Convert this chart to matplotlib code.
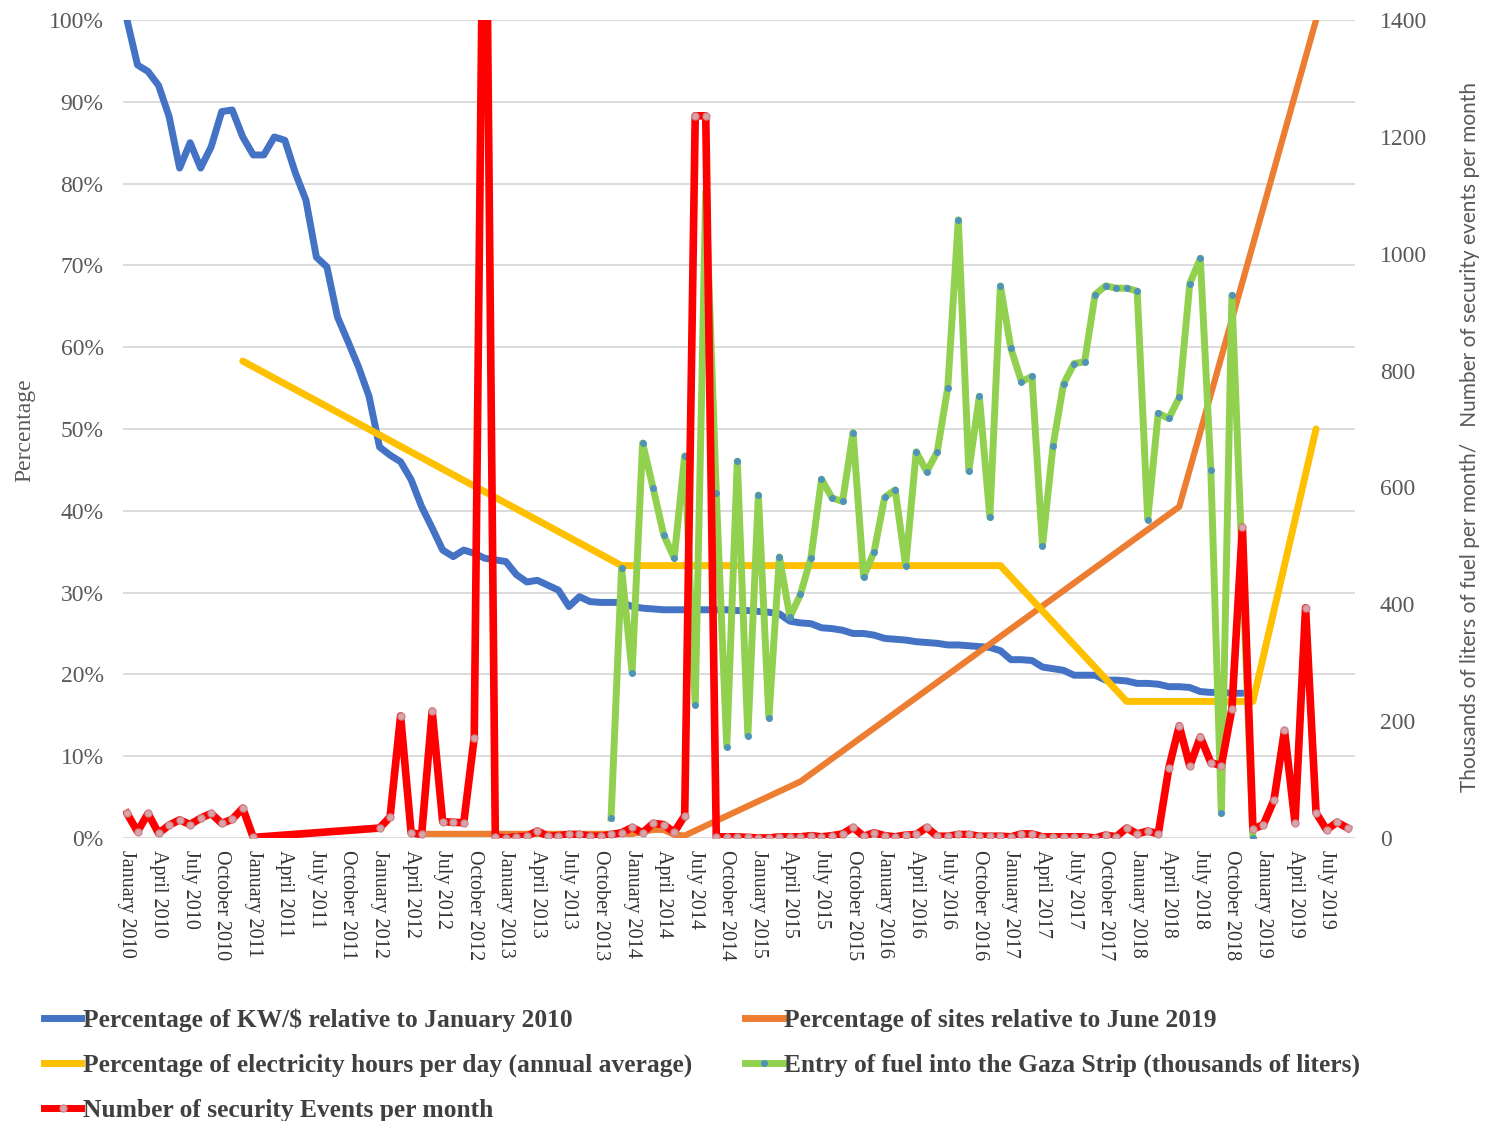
import numpy as np
import matplotlib.pyplot as plt
from matplotlib.lines import Line2D

# months counted from January 2010 (0) to September 2019 (116)
n_months = 117
month_names = ["January", "April", "July", "October"]
tick_pos = list(range(0, n_months, 3))
tick_labels = [month_names[(p // 3) % 4] + " " + str(2010 + p // 12) for p in tick_pos]

# Percentage of KW/$ relative to January 2010 (months 0..106)
kw_pct = [100, 94.5, 93.7, 92.0, 88.2, 81.9, 85.0, 81.9, 84.5, 88.8, 89.0, 85.7,
          83.5, 83.5, 85.7, 85.3, 81.3, 78.0, 71.0, 69.8, 63.7, 60.7, 57.6, 54.0,
          47.8, 46.8, 46.0, 43.8, 40.5, 37.9, 35.2, 34.4, 35.2, 34.8, 34.2, 34.0,
          33.8, 32.2, 31.3, 31.5, 30.9, 30.3, 28.3, 29.5, 28.9, 28.8, 28.8, 28.8,
          28.3, 28.1, 28.0, 27.9, 27.9, 27.9, 27.9, 27.9, 27.9, 27.9, 27.8, 27.8,
          27.7, 27.6, 27.4, 26.5, 26.3, 26.2, 25.7, 25.6, 25.4, 25.0, 25.0, 24.8,
          24.4, 24.3, 24.2, 24.0, 23.9, 23.8, 23.6, 23.6, 23.5, 23.4, 23.3, 22.9,
          21.8, 21.8, 21.7, 20.9, 20.7, 20.5, 19.9, 19.9, 19.9, 19.3, 19.3, 19.2,
          18.9, 18.9, 18.8, 18.5, 18.5, 18.4, 17.9, 17.8, 17.8, 17.7, 17.7]

# Percentage of sites relative to June 2019
sites_month = [28, 48, 50, 51, 52, 53, 64, 100, 113]
sites_pct = [0.5, 0.5, 1.0, 1.0, 0.4, 0.3, 6.9, 40.5, 100]

# Percentage of electricity hours per day (annual average)
hours_month = [11, 47, 59, 71, 83, 95, 107, 113]
hours_pct = [58.3, 33.3, 33.3, 33.3, 33.3, 16.7, 16.7, 50.0]

# Entry of fuel into the Gaza Strip (thousands of liters), months 46..107
fuel_start = 46
fuel = [34, 462, 283, 676, 599, 519, 479, 654, 228, 1106, 590, 156, 645, 175,
        587, 206, 481, 378, 417, 480, 614, 582, 576, 694, 447, 490, 583, 596,
        466, 661, 627, 661, 771, 1058, 628, 756, 549, 945, 838, 781, 790, 500,
        671, 777, 812, 815, 930, 945, 941, 941, 936, 545, 727, 718, 754, 949,
        992, 630, 42, 929, 460, 0]

# Number of security events per month (None = no data)
events = [42, 11, 42, 8, 22, 31, 23, 34, 42, 25, 32, 51,
          1, None, None, None, None, None, None, None, None, None, None, None,
          17, 36, 209, 9, 6, 217, 28, 27, 26, 172, 1900, 2,
          0, 2, 3, 12, 3, 4, 6, 6, 3, 3, 6, 9,
          18, 9, 25, 23, 10, 38, 1236, 1236, 2, 2, 2, 1,
          0, 0, 2, 2, 2, 4, 2, 4, 7, 18, 3, 9,
          4, 2, 5, 6, 18, 3, 3, 6, 6, 3, 3, 3,
          2, 7, 7, 2, 2, 2, 2, 2, 0, 5, 2, 17,
          7, 12, 7, 119, 192, 123, 173, 129, 124, 221, 532, 15,
          23, 65, 184, 26, 394, 43, 14, 27, 17]

serif = "Liberation Serif"
grey = "#595959"

fig = plt.figure(figsize=(14.95, 11.21), dpi=100)
ax = fig.add_axes([123 / 1495, 1 - 838 / 1121, 1232 / 1495, 818 / 1121])
ax2 = ax.twinx()

ax.plot(np.arange(len(kw_pct)), np.array(kw_pct) / 100, color="#4472C4", lw=5,
        solid_joinstyle="round", solid_capstyle="round", zorder=2)
ax.plot(sites_month, np.array(sites_pct) / 100, color="#ED7D31", lw=4.5,
        solid_joinstyle="round", solid_capstyle="round", zorder=3)
ax.plot(hours_month, np.array(hours_pct) / 100, color="#FFC000", lw=5,
        solid_joinstyle="round", solid_capstyle="round", zorder=4)

fuel_x = np.arange(fuel_start, fuel_start + len(fuel))
ax2.plot(fuel_x, fuel, color="#92D050", lw=5, marker="o", ms=4,
         mfc="#4F93B8", mec="#4F93B8", solid_joinstyle="round", zorder=5)

ev = np.array([np.nan if v is None else v for v in events], dtype=float)
ok = ~np.isnan(ev)
ax2.plot(np.arange(n_months)[ok], ev[ok], color="#FF0000", lw=5.5, marker="o",
         ms=5, mfc="#D9A3A8", mec="#C98A90", mew=1, solid_joinstyle="round", zorder=6)

ax.set_xlim(-0.38, 116.7)
ax.set_ylim(0, 1)
ax2.set_ylim(0, 1400)
ax.set_yticks(np.arange(0, 1.01, 0.1))
ax.set_yticklabels([f"{int(round(v * 100))}%" for v in np.arange(0, 1.01, 0.1)])
ax2.set_yticks(range(0, 1401, 200))
ax.set_xticks(tick_pos)
ax.set_xticklabels(tick_labels, rotation=-90, va="top", ha="center")

ax.yaxis.grid(True, color="#d9d9d9", lw=1.3)
ax.set_axisbelow(True)
for a in (ax, ax2):
    for s in a.spines.values():
        s.set_visible(False)
    a.tick_params(length=0)

for lab in ax.get_yticklabels():
    lab.set_fontfamily(serif); lab.set_fontsize(17); lab.set_color(grey)
for lab in ax2.get_yticklabels():
    lab.set_fontfamily(serif); lab.set_fontsize(17); lab.set_color(grey)
for lab in ax.get_xticklabels():
    lab.set_fontfamily(serif); lab.set_fontsize(14.5); lab.set_color("#333333")
ax.tick_params(axis="y", pad=14)
ax2.tick_params(axis="y", pad=18)
ax.tick_params(axis="x", pad=9)

fig.text(25 / 1495, 1 - 430 / 1121, "Percentage", rotation=90, ha="center", va="center",
         family=serif, fontsize=17, color=grey)
fig.text(1470 / 1495, 1 - 437 / 1121,
         "Thousands of liters of fuel per month/   Number of security events per month",
         rotation=90, ha="center", va="center", family="Lato", fontsize=15, color=grey)

h_blue = Line2D([], [], color="#4472C4", lw=5)
h_orange = Line2D([], [], color="#ED7D31", lw=5)
h_yellow = Line2D([], [], color="#FFC000", lw=5)
h_green = Line2D([], [], color="#92D050", lw=5, marker="o", ms=4, mfc="#4F93B8", mec="#4F93B8")
h_red = Line2D([], [], color="#FF0000", lw=5, marker="o", ms=5, mfc="#D9A3A8", mec="#C98A90")
handles = [h_blue, h_yellow, h_red, h_orange, h_green]
labels = ["Percentage of KW/$ relative to January 2010",
          "Percentage of electricity hours per day (annual average)",
          "Number of security Events per month",
          "Percentage of sites relative to June 2019",
          "Entry of fuel into the Gaza Strip (thousands of liters)"]
fig.legend(handles, labels, loc="upper left", bbox_to_anchor=(34 / 1495, 1 - 998 / 1121),
           ncol=2, frameon=False, prop={"family": serif, "size": 18.4, "weight": "bold"},
           handlelength=1.45, handletextpad=0.05, columnspacing=2.1, labelspacing=0.85,
           numpoints=1, labelcolor="#404040", borderaxespad=0)

fig.savefig("out.png", dpi=100)
